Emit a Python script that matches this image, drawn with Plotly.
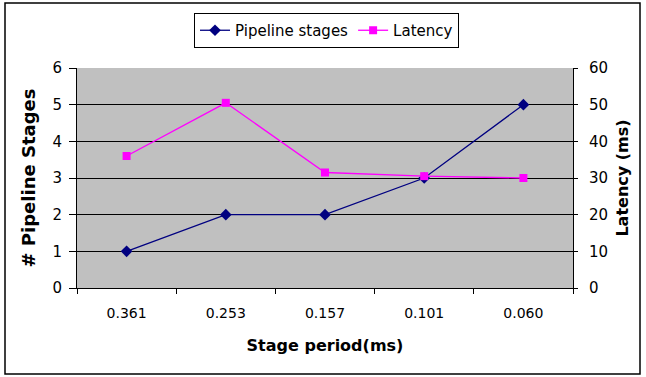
import plotly.graph_objects as go

categories = ["0.361", "0.253", "0.157", "0.101", "0.060"]
pipeline_stages = [1, 2, 2, 3, 5]
latency_ms = [36, 50.5, 31.5, 30.5, 30]

W, H = 646, 377
L, R, T, B = 77, 573, 68, 288
pw, ph = R - L, B - T

def px_x(x):
    return (x - L) / pw

def px_y(y):
    return (B - y) / ph

fig = go.Figure()
fig.add_trace(go.Scatter(
    x=categories, y=pipeline_stages, name="Pipeline stages", mode="lines+markers",
    line=dict(color="#000080", width=1.3),
    marker=dict(symbol="diamond", size=9, color="#000080"),
    yaxis="y"))
fig.add_trace(go.Scatter(
    x=categories, y=latency_ms, name="Latency", mode="lines+markers",
    line=dict(color="#FF00FF", width=1.3),
    marker=dict(symbol="square", size=8, color="#FF00FF"),
    yaxis="y2"))

font_family = "DejaVu Sans, Verdana, sans-serif"
fig.update_layout(
    width=W, height=H,
    margin=dict(l=L, r=W - R, t=T, b=H - B, pad=0),
    paper_bgcolor="white", plot_bgcolor="#C0C0C0",
    font=dict(family=font_family, size=14, color="black"),
    showlegend=True,
    legend=dict(
        orientation="h", x=px_x(326.5), xanchor="center",
        y=px_y(13), yanchor="top",
        bordercolor="black", borderwidth=1, bgcolor="white",
        font=dict(size=15), tracegroupgap=0,
    ),
    xaxis=dict(
        type="category", tickson="boundaries", ticks="outside", ticklen=5,
        tickcolor="black", showline=True, linecolor="black", linewidth=1,
        showgrid=False, tickfont=dict(size=14), ticklabelstandoff=12,
        title=dict(text="<b>Stage period(ms)</b>", font=dict(size=16), standoff=20),
        range=[-0.5, 4.5], fixedrange=True,
    ),
    yaxis=dict(
        range=[0, 6], dtick=1, ticks="outside", ticklen=7, tickcolor="black",
        showline=True, linecolor="black", linewidth=1,
        showgrid=True, gridcolor="black", gridwidth=1, zeroline=False,
        tickfont=dict(size=15), ticklabelstandoff=4,
        title=dict(text="<b># Pipeline Stages</b>", font=dict(size=18), standoff=12),
    ),
    yaxis2=dict(
        range=[0, 60], dtick=10, overlaying="y", side="right",
        ticks="outside", ticklen=4, tickcolor="black",
        showline=True, linecolor="black", linewidth=1,
        showgrid=False, zeroline=False, tickfont=dict(size=15), ticklabelstandoff=8,
        title=dict(text="<b>Latency (ms)</b>", font=dict(size=16), standoff=9),
    ),
    yaxis3=dict(
        range=[0, 6], dtick=1, overlaying="y", side="left", ticks="inside",
        ticklen=3, tickcolor="black", showticklabels=False, showgrid=False,
        zeroline=False, showline=False,
    ),
    yaxis4=dict(
        range=[0, 60], dtick=10, overlaying="y", side="right", ticks="inside",
        ticklen=3, tickcolor="black", showticklabels=False, showgrid=False,
        zeroline=False, showline=False,
    ),
    shapes=[dict(
        type="rect", xref="paper", yref="paper",
        x0=px_x(5), x1=px_x(640), y0=px_y(374), y1=px_y(3),
        line=dict(color="black", width=1.5), fillcolor="rgba(0,0,0,0)", layer="below",
    )],
)
# invisible helper traces that activate the inside-tick axes
fig.add_trace(go.Scatter(x=[categories[0]], y=[None], yaxis="y3", showlegend=False, hoverinfo="skip"))
fig.add_trace(go.Scatter(x=[categories[0]], y=[None], yaxis="y4", showlegend=False, hoverinfo="skip"))

fig.write_html("out.html")
